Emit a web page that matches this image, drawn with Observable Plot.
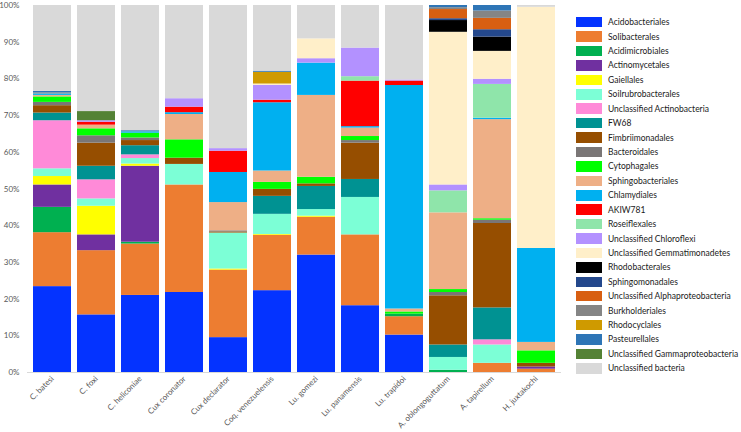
<!DOCTYPE html>
<html>
<head>
<meta charset="utf-8">
<script src="https://cdn.jsdelivr.net/npm/d3@7"></script>
<script src="https://cdn.jsdelivr.net/npm/@observablehq/plot@0.6"></script>
<style>
  body { margin: 0; background: #fff; font-family: Lato, "Liberation Sans", sans-serif; }
  #wrap { position: relative; width: 741px; height: 432px; }
  #legend { position: absolute; left: 576px; top: 15px; font-size: 8.5px; color: #1a1a1a; }
  .row { height: 14.43px; display: flex; align-items: center; white-space: nowrap; }
  .sw { width: 26px; height: 10.5px; margin-right: 6px; flex: none; }
</style>
</head>
<body>
<div id="wrap"><div id="plot"></div><div id="legend"></div></div>
<script>
const samples = ["C. batesi", "C. foxi", "C. heliconiae", "Cux coronator", "Cux declarator",
  "Coq. venezuelensis", "Lu. gomezi", "Lu. panamensis", "Lu. trapidoi",
  "A. oblongoguttatum", "A. tapirellum", "H. juxtakochi"];

const orders = ["Acidobacteriales", "Solibacterales", "Acidimicrobiales", "Actinomycetales",
  "Gaiellales", "Soilrubrobacterales", "Unclassified Actinobacteria", "FW68",
  "Fimbriimonadales", "Bacteroidales", "Cytophagales", "Sphingobacteriales",
  "Chlamydiales", "AKIW781", "Roseiflexales", "Unclassified Chloroflexi",
  "Unclassified Gemmatimonadetes", "Rhodobacterales", "Sphingomonadales",
  "Unclassified Alphaproteobacteria", "Burkholderiales", "Rhodocyclales",
  "Pasteurellales", "Unclassified Gammaproteobacteria", "Unclassified bacteria"];

const colors = ["#0433FF", "#ED7D31", "#00B050", "#7030A0",
  "#FFFF00", "#7CFFD6", "#FF8AD8", "#009292",
  "#964E00", "#7A7676", "#00FF00", "#EEAF86",
  "#00B0F0", "#FF0000", "#8FE5AA", "#B391FF",
  "#FFEFC9", "#000000", "#24488C",
  "#D85F12", "#858585", "#CF9A00",
  "#2E75B6", "#548235", "#D9D9D9"];

// percentages per sample, in the order of `orders`
const cBatesi       = [23.4, 14.7, 6.9, 6.1, 2.3, 2.1, 13.1, 2.1, 2.0, 0.9, 1.5, 0.4, 0.4, 0, 0, 0, 0, 0, 0, 0, 0.3, 0, 0.4, 0, 23.4];
const cFoxi         = [15.7, 17.5, 0, 4.3, 7.8, 2.0, 5.2, 3.7, 6.3, 2.0, 1.9, 1.0, 0, 0.8, 0, 0.4, 0, 0, 0, 0, 0, 0, 0, 2.5, 28.9];
const cHeliconiae   = [21.0, 14.0, 0.5, 20.7, 0.6, 1.5, 1.0, 2.5, 1.4, 0.7, 1.3, 0, 0.4, 0, 0, 0, 0, 0, 0, 0, 0.1, 0, 0.2, 0, 34.1];
const cuxCoronator  = [21.8, 29.3, 0, 0, 0, 5.6, 0, 0, 1.7, 0, 5.0, 6.9, 0.5, 1.5, 0, 2.3, 0, 0, 0, 0, 0, 0, 0, 0, 25.4];
const cuxDeclarator = [9.5, 18.4, 0, 0, 0.3, 9.8, 0, 0, 0.3, 0.3, 0, 7.7, 8.2, 5.8, 0, 0.7, 0, 0, 0, 0, 0, 0, 0, 0, 39.0];
const coqVenez      = [22.3, 15.1, 0, 0, 0.2, 5.5, 0, 4.9, 1.9, 0, 1.9, 3.1, 18.6, 0.7, 0, 4.0, 0.4, 0, 0, 0, 0, 3.2, 0.3, 0, 17.9];
const luGomezi      = [32.0, 10.3, 0, 0, 0.3, 1.8, 0, 6.3, 0.7, 0, 1.8, 22.3, 8.8, 0, 0, 1.2, 5.4, 0, 0, 0, 0, 0, 0, 0, 9.1];
const luPanamensis  = [18.2, 19.3, 0, 0, 0, 10.2, 0, 4.9, 9.9, 0.7, 1.1, 2.3, 0.4, 12.4, 1.2, 7.8, 0, 0, 0, 0, 0, 0, 0, 0, 11.6];
const luTrapidoi    = [10.2, 5.0, 0.7, 0, 0, 0, 0, 0, 0, 0, 0.6, 0.8, 60.9, 1.2, 0, 0.3, 0, 0, 0, 0, 0, 0, 0, 0, 20.3];
const aOblongo      = [0, 0, 0.6, 0, 0, 3.5, 0, 3.4, 13.4, 0.9, 0.8, 20.9, 0, 0, 6.0, 1.6, 41.6, 3.2, 0.5, 2.5, 0.5, 0, 0.6, 0, 0];
const aTapirellum   = [0, 2.5, 0, 0, 0, 5.0, 1.4, 8.7, 23.0, 0.9, 0.4, 27.0, 0.4, 0, 9.2, 1.4, 7.6, 3.9, 2.0, 3.1, 2.0, 0, 1.5, 0, 0];
const hJuxtakochi   = [0, 0.9, 0, 0.6, 0, 0, 0, 0, 1.0, 0, 3.4, 2.3, 25.6, 0, 0, 0, 65.7, 0, 0, 0, 0, 0, 0, 0, 0.5];

const sampleValues = [cBatesi, cFoxi, cHeliconiae, cuxCoronator, cuxDeclarator, coqVenez,
  luGomezi, luPanamensis, luTrapidoi, aOblongo, aTapirellum, hJuxtakochi];

const table = [];
samples.forEach((s, i) => sampleValues[i].forEach((v, j) => table.push({sample: s, order: orders[j], value: v})));

const chart = Plot.plot({
  width: 565,
  height: 432,
  marginLeft: 27,
  marginRight: 4,
  marginTop: 5,
  marginBottom: 60,
  style: {fontFamily: "Lato, 'Liberation Sans', sans-serif", fontSize: "8px", background: "#fff"},
  x: {domain: samples, paddingInner: 0.146, paddingOuter: 0.073, label: null},
  y: {domain: [0, 1], label: null},
  color: {domain: orders, range: colors},
  marks: [
    Plot.barY(table, Plot.stackY({offset: "normalize"}, {x: "sample", y: "value", fill: "order"})),
    Plot.ruleY([0], {stroke: "#d9d9d9"}),
    Plot.axisY({ticks: d3.range(0, 11).map(d => d / 10), tickFormat: d3.format(".0%"), tickSize: 0, tickPadding: 8, fontSize: 8, color: "#595959", label: null}),
    Plot.axisX({tickRotate: -45, tickSize: 0, tickPadding: 5, fontSize: 8, color: "#595959", label: null})
  ]
});
document.getElementById("plot").appendChild(chart);

const legend = document.getElementById("legend");
orders.forEach((o, i) => {
  const row = document.createElement("div");
  row.className = "row";
  const sw = document.createElement("div");
  sw.className = "sw";
  sw.style.background = colors[i];
  const t = document.createElement("span");
  t.textContent = o;
  row.appendChild(sw);
  row.appendChild(t);
  legend.appendChild(row);
});
</script>
</body>
</html>
